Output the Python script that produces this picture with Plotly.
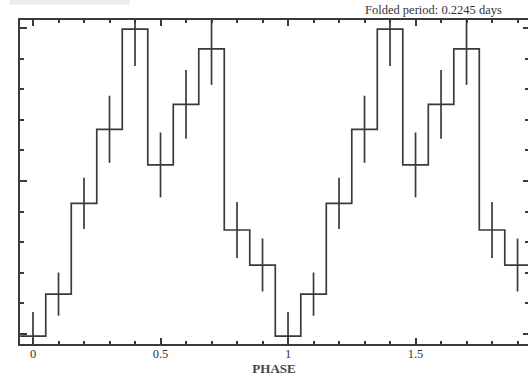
import plotly.graph_objects as go

# One folded cycle: bin centres (phase), rate and 1-sigma error (arbitrary units)
phase_centres = [0.0, 0.1, 0.2, 0.3, 0.4, 0.5, 0.6, 0.7, 0.8, 0.9]
rate = [0.0987, 0.1261, 0.1854, 0.2338, 0.2993, 0.2105, 0.2501, 0.2863, 0.1680, 0.1451]
rate_err = [0.0157, 0.0141, 0.0167, 0.0219, 0.0242, 0.0212, 0.0225, 0.0235, 0.0183, 0.0173]
bin_width = 0.1

x_tick_vals = [0, 0.5, 1, 1.5]
x_tick_text = ["0", "0.5", "1", "1.5"]
period_label = "Folded period: 0.2245 days"
x_title = "PHASE"

# Two cycles are shown (phase 0-2), the second one repeating the first
cycles = [0, 1]
centres = [c + k for k in cycles for c in phase_centres]
vals = [v for k in cycles for v in rate]
errs = [e for k in cycles for e in rate_err]

edges = [c - bin_width / 2 for c in centres] + [centres[-1] + bin_width / 2]
step_y = vals + [vals[-1]]

# error bars as line segments (so they are clipped by the plot frame)
ex, ey = [], []
for c, v, e in zip(centres, vals, errs):
    ex += [c, c, None]
    ey += [v - e, v + e, None]

ink = "#3a3a3a"
fig = go.Figure()
fig.add_trace(go.Scatter(x=edges, y=step_y, mode="lines", line_shape="hv",
                         line=dict(color=ink, width=1.7), showlegend=False,
                         hoverinfo="skip"))
fig.add_trace(go.Scatter(x=ex, y=ey, mode="lines",
                         line=dict(color=ink, width=1.7), showlegend=False,
                         hoverinfo="skip"))
# invisible trace for the right-hand tick axis
fig.add_trace(go.Scatter(x=[centres[0]], y=[vals[0]], yaxis="y2", mode="markers",
                         marker=dict(size=1, color="rgba(0,0,0,0)"), showlegend=False,
                         hoverinfo="skip"))

yr = [0.0935, 0.3052]
serif = "Liberation Serif, Times New Roman, serif"

fig.update_layout(
    width=528, height=378,
    margin=dict(l=20, r=0, t=20, b=34),
    paper_bgcolor="white", plot_bgcolor="white",
    showlegend=False,
    xaxis=dict(range=[-0.051, 1.941], showgrid=False, zeroline=False,
               showline=True, linecolor=ink, linewidth=2, mirror="ticks",
               ticks="inside", ticklen=6, tickwidth=1.5, tickcolor=ink,
               tickvals=x_tick_vals, ticktext=x_tick_text,
               ticklabelstandoff=-3,
               tickfont=dict(family=serif, size=12.5, color="#333"),
               minor=dict(dtick=0.1, tick0=0, ticks="inside", ticklen=3,
                          tickwidth=1.5, tickcolor=ink, showgrid=False),
               title=dict(text="<b>" + x_title + "</b>", standoff=1,
                          font=dict(family=serif, size=13, color="#444"))),
    yaxis=dict(range=yr, showgrid=False, zeroline=False, showline=True,
               linecolor=ink, linewidth=2, ticks="inside", ticklen=7,
               tickwidth=1.5, tickcolor=ink, tick0=0.1, dtick=0.1,
               showticklabels=False,
               minor=dict(dtick=0.02, tick0=0.1, ticks="inside", ticklen=4,
                          tickwidth=1.5, tickcolor=ink, showgrid=False)),
    yaxis2=dict(range=yr, overlaying="y", side="right", showgrid=False,
                zeroline=False, showline=False, ticks="inside", ticklen=5,
                tickwidth=1.5, tickcolor=ink, tick0=0.1, dtick=0.1,
                showticklabels=False,
                minor=dict(dtick=0.02, tick0=0.1, ticks="inside", ticklen=3,
                           tickwidth=1.5, tickcolor=ink, showgrid=False)),
    annotations=[dict(text=period_label, xref="paper", yref="paper",
                      x=0.813, y=1.0, xanchor="center", yanchor="bottom",
                      yshift=1, showarrow=False,
                      font=dict(family=serif, size=12.5, color="#333"))],
    shapes=[dict(type="rect", xref="paper", yref="paper",
                 x0=-0.02, x1=0.216, y0=1.047, y1=1.07,
                 fillcolor="#ececec", line=dict(width=0), layer="below")],
)

fig.write_html("out.html")
